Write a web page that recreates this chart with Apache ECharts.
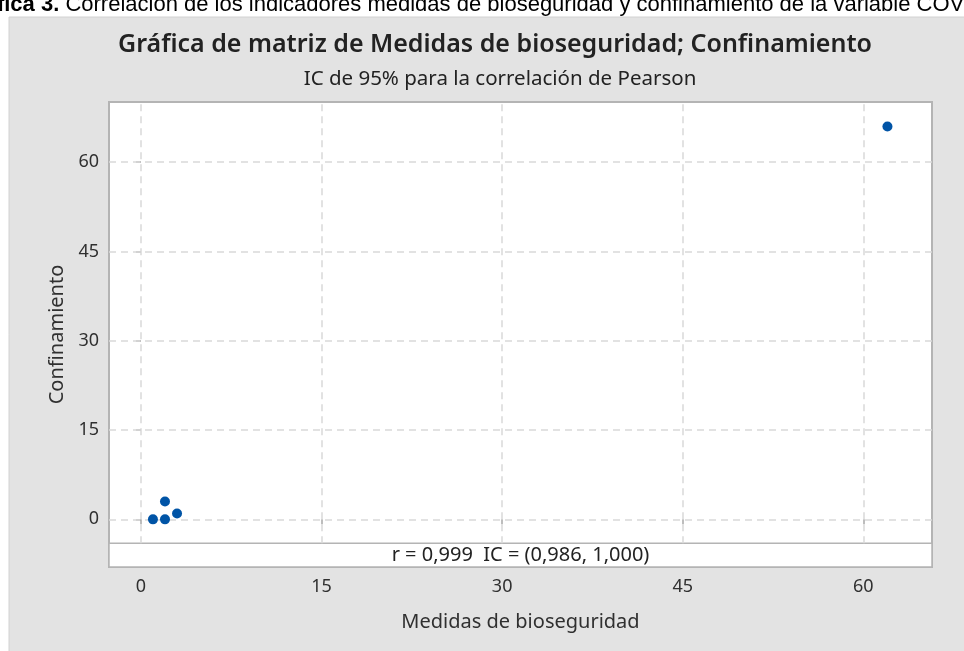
<!DOCTYPE html>
<html>
<head>
<meta charset="utf-8">
<title>Gráfica de matriz</title>
<script src="https://cdn.jsdelivr.net/npm/echarts@6/dist/echarts.min.js"></script>
<style>
  html, body { margin: 0; padding: 0; background: #fff; }
  #chart { width: 964px; height: 651px; }
</style>
</head>
<body>
<div id="chart"></div>
<script>
// datos
const medidas = [1, 2, 2, 3, 62]
const confinamiento = [0, 0, 3, 1, 66]
const xTicks = [0, 15, 30, 45, 60]
const yTicks = [0, 15, 30, 45, 60]
const corrLabel = "r = 0,999  IC = (0,986, 1,000)"

// rango de ejes (la franja inferior va de yMin a bandTop)
const xMin = -2.65, xMax = 65.7
const yMin = -8, yMax = 70.1, bandTop = -4

const textColor = "#303030"
const gridColor = "#d9d9d9"
const frameColor = "#b4b4b4"
const fontFamily = "'Noto Sans', 'Open Sans', sans-serif"

const points = medidas.map((x, i) => [x, confinamiento[i]])

const gridLines = [
  ...yTicks.map(v => ({ yAxis: v })),
  ...xTicks.map(v => [{ coord: [v, bandTop] }, { coord: [v, yMax] }]),
]

const chart = echarts.init(document.getElementById("chart"))

chart.setOption({
  animation: false,
  backgroundColor: "#ffffff",
  textStyle: { fontFamily },

  graphic: [
    {
      type: "rect",
      z: -10,
      shape: { x: 9, y: 17, width: 960, height: 640 },
      style: { fill: "#e3e3e3", stroke: "#d2d2d2", lineWidth: 1 },
    },
    {
      type: "text",
      z: 10,
      x: -41,
      y: 5,
      style: {
        text: "{b|Gráfica 3.} Correlación de los indicadores medidas de bioseguridad y confinamiento de la variable COVID-19",
        font: "22px 'Liberation Sans', Arial, sans-serif",
        fill: "#000",
        verticalAlign: "middle",
        rich: {
          b: { fontWeight: "bold", fontSize: 22, fontFamily: "'Liberation Sans', Arial, sans-serif" },
        },
      },
    },
  ],

  title: [
    {
      text: "Gráfica de matriz de Medidas de bioseguridad; Confinamiento",
      left: 490,
      textAlign: "center",
      top: 25,
      textStyle: {
        fontFamily,
        fontSize: 25,
        fontWeight: 600,
        color: "#222",
        lineHeight: 30,
      },
    },
    {
      text: "IC de 95% para la correlación de Pearson",
      left: 495,
      textAlign: "center",
      top: 62,
      textStyle: {
        fontFamily,
        fontSize: 20.5,
        fontWeight: "normal",
        color: "#222",
        lineHeight: 25,
      },
    },
  ],

  grid: {
    left: 109,
    right: 32,
    top: 102,
    bottom: 84,
    show: true,
    backgroundColor: "#ffffff",
    borderColor: frameColor,
    borderWidth: 2,
  },

  xAxis: {
    type: "value",
    min: xMin,
    max: xMax,
    name: "Medidas de bioseguridad",
    nameLocation: "middle",
    nameGap: 45,
    nameTextStyle: { fontFamily, fontSize: 20, color: textColor },
    axisLine: { show: false },
    splitLine: { show: false },
    axisTick: {
      show: true,
      length: 5,
      customValues: xTicks,
      lineStyle: { color: "#a8a8a8", width: 1.5 },
    },
    axisLabel: {
      customValues: xTicks,
      margin: 11,
      fontFamily,
      fontSize: 18,
      color: textColor,
    },
  },

  yAxis: {
    type: "value",
    min: yMin,
    max: yMax,
    name: "Confinamiento",
    nameLocation: "middle",
    nameGap: 41,
    nameTextStyle: { fontFamily, fontSize: 20, color: textColor },
    axisLine: { show: false },
    splitLine: { show: false },
    axisTick: {
      show: true,
      length: 5,
      customValues: yTicks,
      lineStyle: { color: "#a8a8a8", width: 1.5 },
    },
    axisLabel: {
      customValues: yTicks,
      margin: 10,
      fontFamily,
      fontSize: 18,
      color: textColor,
    },
  },

  series: [
    {
      type: "scatter",
      data: points,
      symbol: "circle",
      symbolSize: 10,
      z: 5,
      itemStyle: { color: "#0054a6", opacity: 1 },
      markLine: {
        silent: true,
        symbol: "none",
        label: { show: false },
        lineStyle: { color: gridColor, width: 1.5, type: [7, 5] },
        data: gridLines,
      },
      markArea: {
        silent: true,
        itemStyle: {
          color: "#ffffff",
          borderColor: frameColor,
          borderWidth: 1.5,
        },
        label: {
          show: true,
          position: "inside",
          formatter: corrLabel,
          fontFamily,
          fontSize: 20,
          color: "#222",
        },
        data: [[{ yAxis: yMin }, { yAxis: bandTop }]],
      },
    },
  ],
})
</script>
</body>
</html>
